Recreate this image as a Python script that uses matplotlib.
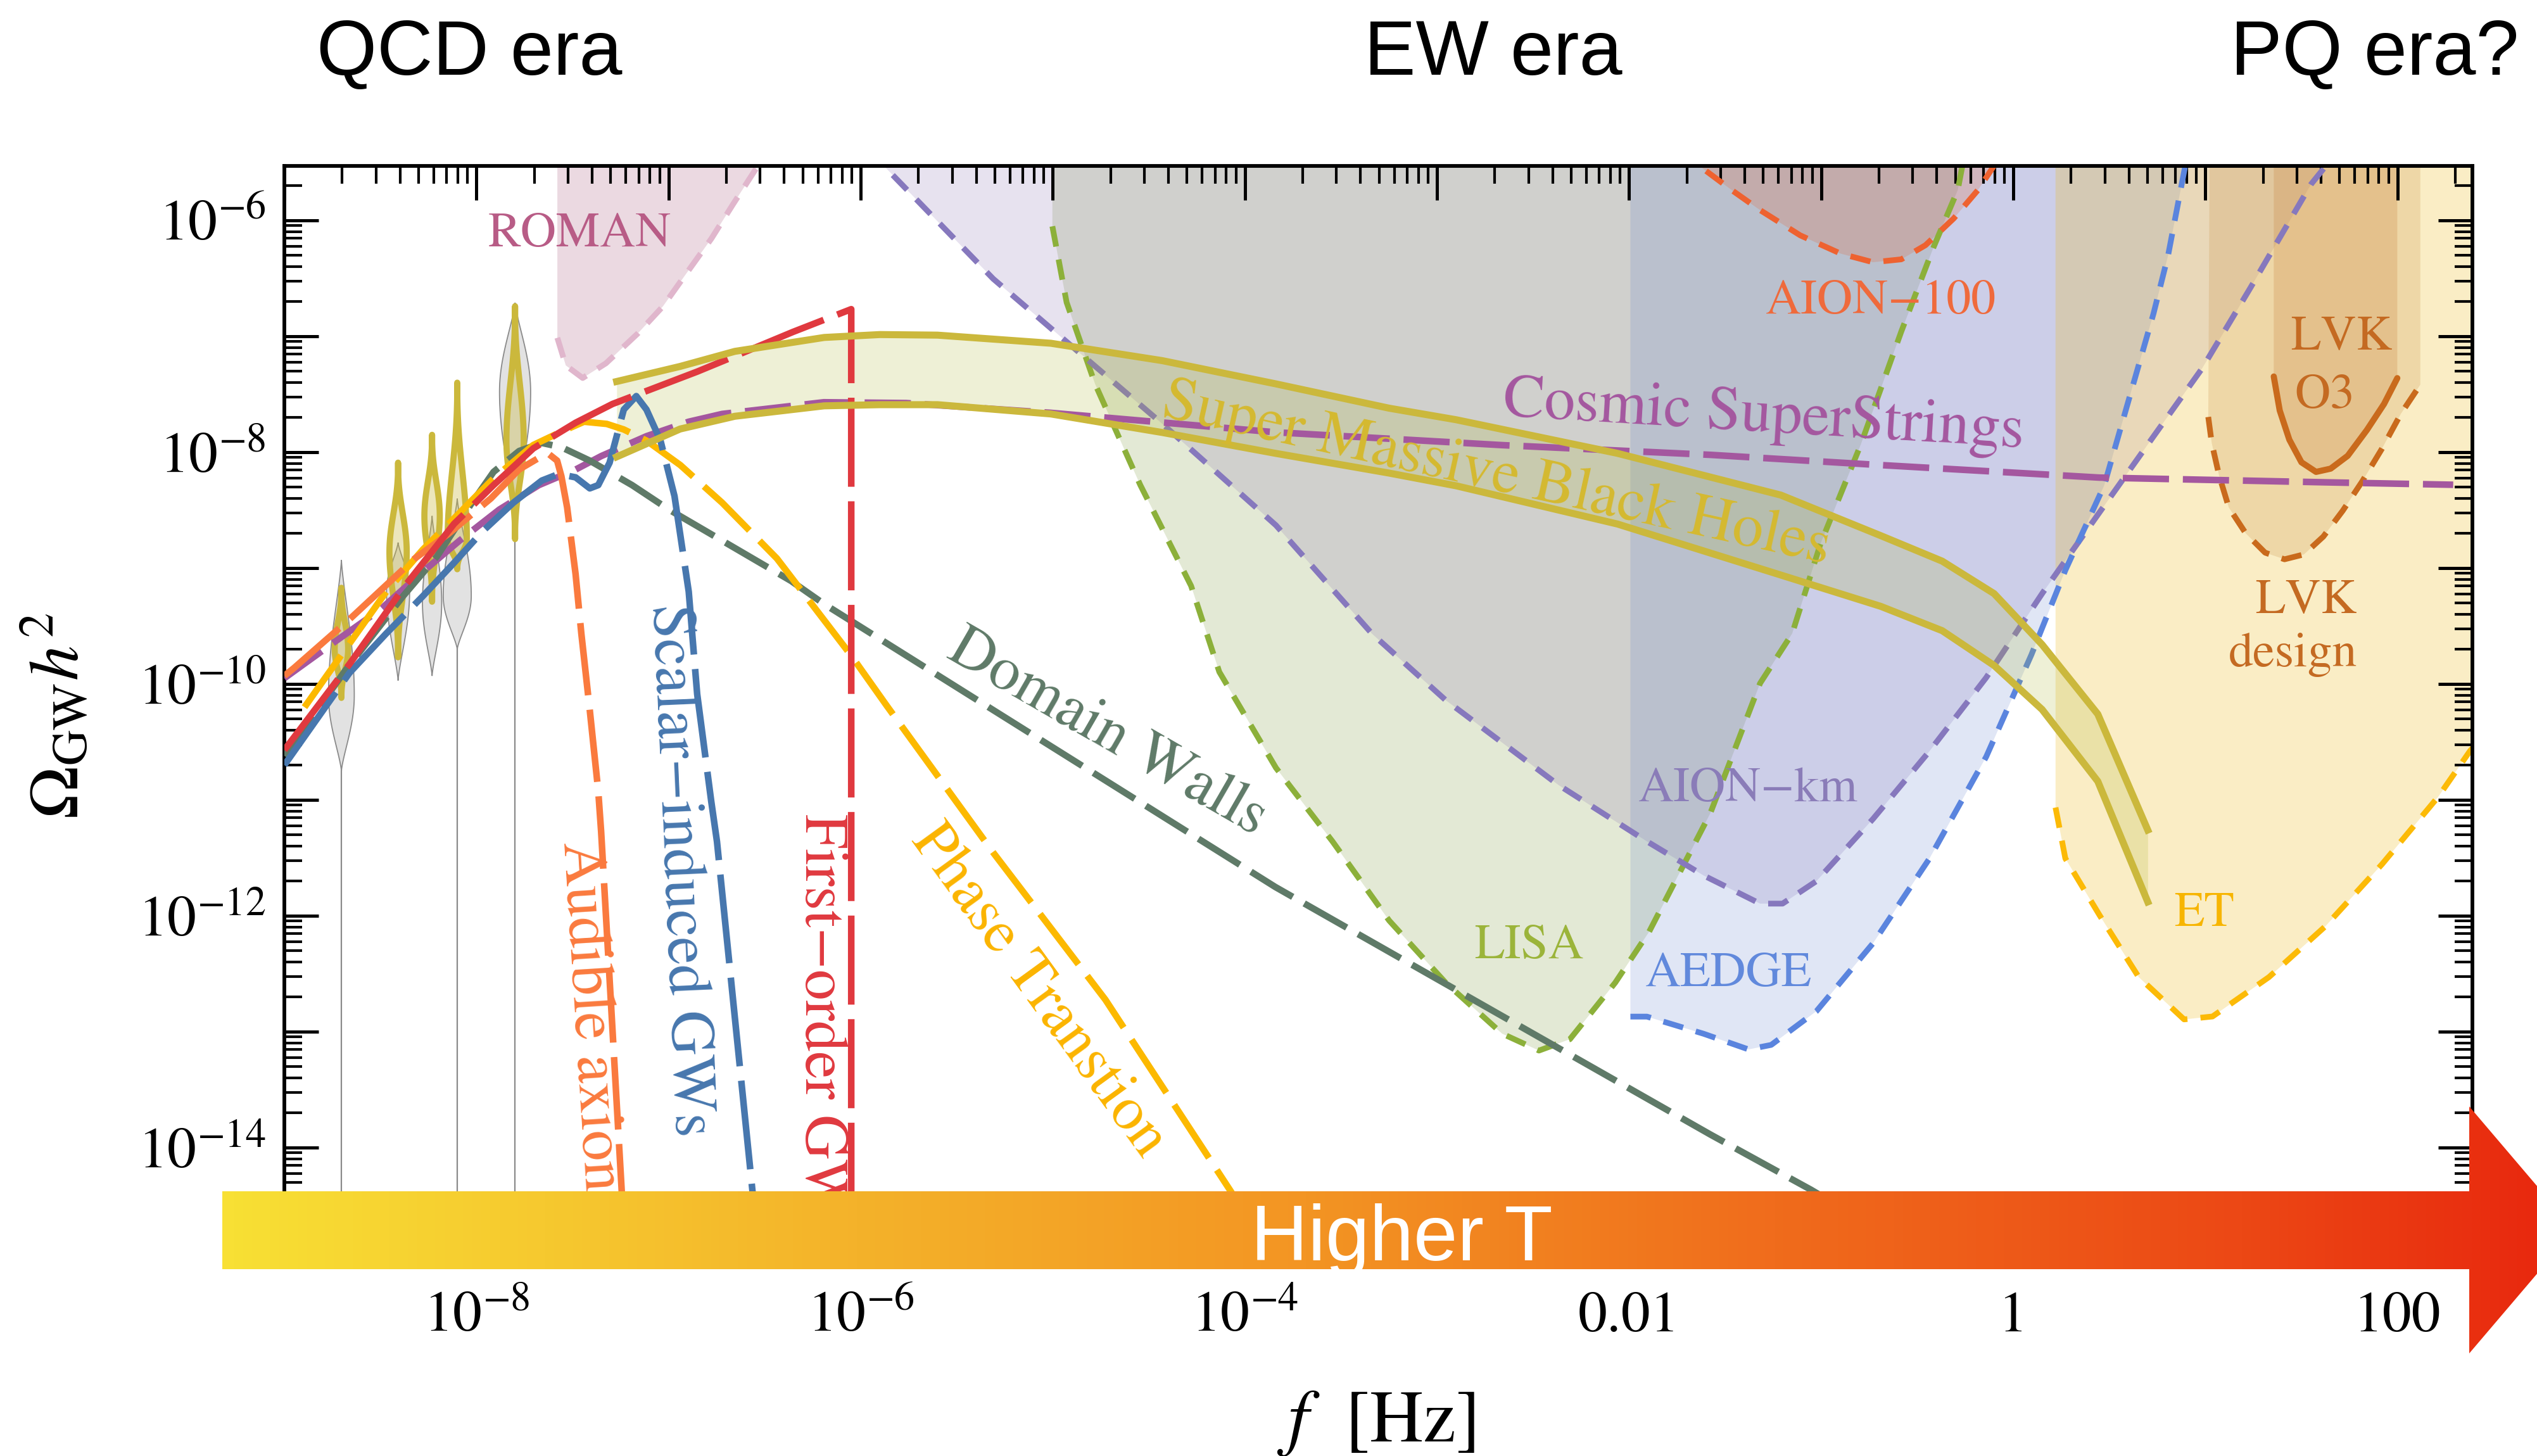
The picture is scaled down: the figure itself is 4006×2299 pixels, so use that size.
import numpy as np
import matplotlib
matplotlib.use("Agg")
import matplotlib.pyplot as plt
from matplotlib.ticker import LogLocator, NullFormatter, FuncFormatter
from matplotlib.patches import Polygon
from matplotlib.colors import LinearSegmentedColormap

plt.rcParams["mathtext.fontset"] = "stix"
plt.rcParams["font.family"] = ["STIXGeneral", "DejaVu Serif"]

W, H, DPI = 4006, 2299, 100

# ---------------------------------------------------------------------------
# Data: all values are log10(f / Hz) and log10(Omega_GW h^2)
# ---------------------------------------------------------------------------
XMIN, XMAX = -9.0, 2.39
YMIN, YMAX = -15.0, -5.53
TOP = -5.3  # closing level for sensitivity regions (above frame, clipped)

# Super massive black holes band
smbh_logf = [-7.27, -6.94, -6.655, -6.19, -5.90, -5.60, -5.01, -4.43, -3.84, -3.25,
             -2.90, -2.06, -1.21, -0.69, -0.37, -0.10, 0.15, 0.44, 0.70]
smbh_hi = [-7.39, -7.26, -7.13, -7.01, -6.985, -6.99, -7.06, -7.21, -7.41, -7.62,
           -7.72, -8.01, -8.37, -8.72, -8.94, -9.22, -9.66, -10.26, -11.26]
smbh_lo = [-8.04, -7.80, -7.69, -7.60, -7.59, -7.59, -7.67, -7.83, -8.01, -8.18,
           -8.29, -8.62, -9.06, -9.33, -9.54, -9.84, -10.22, -10.84, -11.88]

# Cosmic superstrings
cs_logf = [-9.0, -8.735, -8.50, -8.293, -8.088, -7.881, -7.675, -7.484, -7.351, -7.115,
           -6.895, -6.721, -6.192, -5.763, -5.013, -3.841, -2.661, -1.575, -0.733, 0.447,
           1.626, 2.29]
cs_logO = [-9.95, -9.633, -9.357, -9.051, -8.763, -8.495, -8.284, -8.150, -8.034, -7.862,
           -7.737, -7.670, -7.569, -7.576, -7.660, -7.828, -7.939, -8.023, -8.107, -8.219,
           -8.260, -8.281]

# Domain walls
dw_logf = [-9.0, -8.680, -8.382, -8.206, -8.029, -7.911, -7.778, -7.660, -7.558, -7.410,
           -7.190, -6.998, -6.721, -6.361, -6.192, -3.841, -1.575, -1.053, -0.30]
dw_logO = [-10.62, -9.877, -9.242, -8.90, -8.45, -8.17, -7.99, -7.92, -7.957, -8.073,
           -8.284, -8.495, -8.763, -9.112, -9.308, -11.752, -13.889, -14.364, -15.1]

# First-order GWs
fo_logf = [-9.0, -8.660, -8.366, -8.117, -7.911, -7.704, -7.484, -7.292, -6.851, -6.655,
           -6.352, -6.049, -6.049]
fo_logO = [-10.57, -9.826, -9.14, -8.619, -8.284, -7.967, -7.746, -7.584, -7.305, -7.171,
           -6.962, -6.766, -15.5]

# Scalar-induced GWs
si_logf = [-9.0, -8.661, -8.470, -8.279, -8.117, -7.970, -7.808, -7.660, -7.572, -7.484,
           -7.410, -7.366, -7.307, -7.233, -7.168, -7.115, -7.042, -6.969, -6.895, -6.851,
           -6.778, -6.748, -6.563, -6.52]
si_logO = [-10.70, -9.904, -9.565, -9.242, -8.955, -8.686, -8.436, -8.245, -8.188, -8.217,
           -8.312, -8.284, -8.091, -7.632, -7.516, -7.632, -7.90, -8.379, -9.203, -10.087,
           -11.01, -11.359, -14.378, -15.1]

# Audible axion
aa_logf = [-9.0, -8.949, -8.661, -8.323, -8.147, -7.925, -7.778, -7.631, -7.580, -7.558,
           -7.528, -7.484, -7.454, -7.410, -7.366, -7.351, -7.245, -7.22]
aa_logO = [-9.93, -9.861, -9.442, -8.920, -8.706, -8.399, -8.149, -8.006, -8.073, -8.207,
           -8.476, -9.051, -9.565, -10.227, -10.924, -11.273, -14.34, -15.1]

# Phase transition
pt_logf = [-8.895, -8.676, -8.470, -8.279, -8.117, -7.911, -7.704, -7.558, -7.440, -7.322,
           -7.233, -7.115, -6.939, -6.721, -6.436, -6.049, -5.864, -5.308, -4.726, -4.073,
           -3.825]
pt_logO = [-10.20, -9.686, -9.205, -8.840, -8.572, -8.226, -7.938, -7.823, -7.737, -7.756,
           -7.804, -7.900, -8.111, -8.436, -8.917, -9.755, -10.188, -11.459, -12.724, -14.378,
           -15.06]

# PTA violins (grey) and SMBH-fit violins (gold)
pta_logf = [-8.703, -8.408, -8.231, -8.100, -7.799]
pta_top = [-8.93, -8.78, -8.55, -8.40, -6.71]
pta_mid = [-10.10, -9.20, -9.30, -9.24, -7.48]
pta_bot = [-10.75, -9.97, -9.93, -9.70, -8.54]
pta_hw = [0.067, 0.060, 0.050, 0.073, 0.081]
pta_tail = [True, False, False, True, True]
gv_top = [-9.17, -8.09, -7.85, -7.40, -6.74]
gv_mid = [-9.70, -8.86, -8.55, -8.75, -7.90]
gv_bot = [-10.12, -9.77, -9.29, -9.01, -8.75]
gv_hw = [0.035, 0.045, 0.040, 0.050, 0.045]

# --- detector sensitivity curves ---
roman_logf = [-7.579, -7.535, -7.447, -7.326, -7.161, -7.029, -6.919, -6.777, -6.666, -6.546, -6.50]
roman_logO = [-7.013, -7.251, -7.360, -7.233, -6.977, -6.741, -6.485, -6.157, -5.865, -5.557, -5.45]

aionkm_logf = [-5.955, -5.310, -4.869, -4.427, -3.838, -3.339, -2.955, -2.367, -1.907, -1.612,
               -1.318, -1.201, -1.024, -0.730, -0.436, -0.141, 0.153, 0.446, 0.730, 0.983,
               1.235, 1.550, 1.69]
aionkm_logO = [-5.40, -6.504, -7.131, -7.759, -8.631, -9.565, -10.139, -10.872, -11.358, -11.652,
               -11.895, -11.895, -11.700, -11.164, -10.579, -9.945, -9.213, -8.526, -7.864, -7.277,
               -6.580, -5.688, -5.40]

lisa_logf = [-5.002, -5.002, -4.928, -4.780, -4.545, -4.280, -4.133, -3.838, -3.544, -3.249,
             -2.955, -2.661, -2.469, -2.308, -2.072, -1.896, -1.577, -1.318, -1.151, -1.003,
             -0.794, -0.583, -0.414, -0.289, -0.25]
lisa_logO = [-5.40, -6.051, -6.707, -7.410, -8.281, -9.153, -9.896, -10.724, -11.358, -12.041,
             -12.577, -13.017, -13.163, -13.065, -12.577, -12.139, -11.115, -9.994, -9.565, -8.788,
             -7.935, -6.959, -6.227, -5.738, -5.40]

aedge_logf = [-1.993, -1.993, -1.907, -1.612, -1.378, -1.260, -1.024, -0.730, -0.436, -0.141,
              0.094, 0.271, 0.473, 0.730, 0.806, 0.91]
aedge_logO = [-5.40, -12.870, -12.870, -13.018, -13.153, -13.114, -12.822, -12.237, -11.505, -10.628,
              -9.749, -9.019, -8.288, -6.804, -6.301, -5.40]

aion100_logf = [-1.74, -1.634, -1.466, -1.319, -1.109, -0.898, -0.730, -0.583, -0.457, -0.310,
                -0.184, -0.101, -0.049]
aion100_logO = [-5.40, -5.53, -5.738, -5.910, -6.129, -6.287, -6.361, -6.336, -6.214, -5.983,
                -5.738, -5.53, -5.40]

et_logf = [0.22, 0.22, 0.271, 0.448, 0.653, 0.889, 1.037, 1.331, 1.625, 1.920, 2.214, 2.377, 2.50]
et_logO = [-5.40, -11.066, -11.505, -11.992, -12.529, -12.894, -12.869, -12.529, -12.090, -11.554,
           -10.969, -10.579, -10.35]

lvkd_logf = [1.022, 1.015, 1.033, 1.071, 1.122, 1.210, 1.311, 1.412, 1.513, 1.614, 1.715, 1.816,
             1.917, 2.018, 2.119, 2.119]
lvkd_logO = [-5.40, -7.696, -7.920, -8.198, -8.477, -8.700, -8.867, -8.924, -8.882, -8.728, -8.505,
             -8.253, -7.976, -7.668, -7.417, -5.40]

lvko3_logf = [1.356, 1.356, 1.387, 1.437, 1.500, 1.576, 1.652, 1.741, 1.841, 1.930, 1.999, 1.999]
lvko3_logO = [-5.40, -7.347, -7.640, -7.892, -8.087, -8.170, -8.142, -8.031, -7.808, -7.584, -7.361, -5.40]

# tick labels
xtick_exp = [-8, -6, -4, -2, 0, 2]
xtick_txt = [r"$10^{-8}$", r"$10^{-6}$", r"$10^{-4}$", "0.01", "1", "100"]
ytick_exp = [-6, -8, -10, -12, -14]
ytick_txt = [r"$10^{-6}$", r"$10^{-8}$", r"$10^{-10}$", r"$10^{-12}$", r"$10^{-14}$"]

era_labels = ["QCD era", "EW era", "PQ era?"]


def P(a):
    return 10.0 ** np.asarray(a, dtype=float)


# ---------------------------------------------------------------------------
fig = plt.figure(figsize=(W / DPI, H / DPI), dpi=DPI, facecolor="white")
ax = fig.add_axes([449 / W, 1 - 1995 / H, (3904 - 449) / W, (1995 - 262) / H])
ax.set_xscale("log")
ax.set_yscale("log")
ax.set_xlim(P(XMIN), P(XMAX))
ax.set_ylim(P(YMIN), P(YMAX))


def region(lf, lo, fc, alpha, lc, ls, i0=0, i1=None, lw=6.5):
    xs = list(lf)
    ys = list(lo)
    px = [xs[0]] + xs + [xs[-1]]
    py = [TOP] + ys + [TOP]
    ax.fill(P(px), P(py), color=fc, alpha=alpha, lw=0, zorder=1)
    ax.plot(P(xs[i0:i1]), P(ys[i0:i1]), color=lc, lw=lw, ls=ls, zorder=2,
            dash_capstyle="butt", solid_capstyle="round")


det_dash = (0, (3.6, 2.3))
region(roman_logf, roman_logO, "#b36b8b", 0.25, "#e0b6cc", det_dash)
region(lisa_logf, lisa_logO, "#93ab5b", 0.25, "#8cb03a", det_dash, i0=1)
region(aionkm_logf, aionkm_logO, "#876eaf", 0.20, "#8678bd", det_dash)
region(aedge_logf, aedge_logO, "#6482cd", 0.20, "#5a84de", det_dash, i0=1)
region(aion100_logf, aion100_logO, "#e06f48", 0.25, "#ee6230", det_dash)
region(et_logf, et_logO, "#efbb1b", 0.25, "#fcba06", det_dash, i0=1)
region(lvkd_logf, lvkd_logO, "#cb964e", 0.25, "#c96a1c", det_dash, i0=1, i1=-1)
region(lvko3_logf, lvko3_logO, "#c7803c", 0.25, "#c96a1c", "-", i0=1, i1=-1, lw=7.0)

# SMBH band
ax.fill_between(P(smbh_logf), P(smbh_lo), P(smbh_hi), color="#aab432", alpha=0.2, lw=0, zorder=2.5)
ax.plot(P(smbh_logf), P(smbh_hi), color="#cbb83c", lw=8.0, zorder=3.2)
ax.plot(P(smbh_logf), P(smbh_lo), color="#cbb83c", lw=8.0, zorder=3.2)


# violins
def outline(lf, top, mid, bot, hw, p):
    ys = np.linspace(top, bot, 80)
    u = np.where(ys >= mid, (top - ys) / (top - mid), (ys - bot) / (mid - bot))
    w = hw * np.sin(np.pi / 2 * np.clip(u, 0, 1)) ** p
    xs = np.concatenate([lf + w, (lf - w)[::-1]])
    yy = np.concatenate([ys, ys[::-1]])
    return xs, yy


for lf, t, m, b, hw, tail in zip(pta_logf, pta_top, pta_mid, pta_bot, pta_hw, pta_tail):
    xs, ys = outline(lf, t, m, b, hw, 1.3)
    ax.fill(P(xs), P(ys), facecolor="#e2e2e2", edgecolor="#8a8a8a", lw=1.3, zorder=2.6)
    if tail:
        ax.plot(P([lf, lf]), P([b, -15.5]), color="#8a8a8a", lw=1.6, zorder=2.6)

for lf, t, m, b, hw in zip(pta_logf, gv_top, gv_mid, gv_bot, gv_hw):
    xs, ys = outline(lf, t, m, b, hw, 2.5)
    ax.fill(P(xs), P(ys), facecolor="#cbb83c", alpha=0.35, lw=0, zorder=2.8)
    ax.fill(P(xs), P(ys), facecolor="none", edgecolor="#cbb83c", lw=7.0, zorder=2.8,
            joinstyle="round")

# model curves
LW = 7.5
curves = [
    (cs_logf, cs_logO, "#a4579f", (7.0, 2.1)),
    (dw_logf, dw_logO, "#5f7a68", (7.4, 2.0)),
    (pt_logf, pt_logO, "#fcb900", (9.6, 2.2)),
    (aa_logf, aa_logO, "#fa7a3e", (11.0, 2.2)),
    (si_logf, si_logO, "#4777ae", (13.5, 2.2)),
    (fo_logf, fo_logO, "#e0393f", (13.5, 2.2)),
]
for lf, lo, col, dash in curves:
    ax.plot(P(lf), P(lo), color=col, lw=LW, ls=(0, dash), zorder=3,
            dash_capstyle="butt")

# annotations on curves
ann = dict(fontsize=70, rotation_mode="anchor", zorder=4)
ax.text(P(-2.69), P(-8.20), "Super Massive Black Holes", color="#d5b930", rotation=-12.5,
        ha="center", va="center", **ann)
ax.text(P(-1.30), P(-7.695), "Cosmic SuperStrings", color="#a4579f", rotation=-3.5,
        ha="center", va="center", **ann)
ax.text(P(-4.715), P(-10.43), "Domain Walls", color="#5f7a68", rotation=-30,
        ha="center", va="center", **ann)
ax.text(P(-5.076), P(-12.652), "Phase Transtion", color="#fbb400", rotation=-54,
        ha="center", va="center", **ann)
ax.text(P(-6.212), P(-11.118), "First\u2212order GWs", color="#e0393f", rotation=-90,
        ha="left", va="center", **ann)
ax.text(P(-7.006), P(-9.31), "Scalar\u2212induced GWs", color="#4777ae", rotation=-87.5,
        ha="left", va="center", **ann)
ax.text(P(-7.471), P(-11.358), "Audible axion", color="#fa7a3e", rotation=-86.4,
        ha="left", va="center", **ann)

# detector labels
det = dict(fontsize=56, ha="center", va="center", zorder=4)
ax.text(P(-7.463), P(-6.124), "ROMAN", color="#b85c86", **det)
ax.text(P(-2.519), P(-12.269), "LISA", color="#9bb43a", **det)
ax.text(P(-1.482), P(-12.507), "AEDGE", color="#6189dc", **det)
ax.text(P(-1.381), P(-10.914), "AION\u2212km", color="#8a7cb8", **det)
ax.text(P(-0.689), P(-6.702), "AION\u2212100", color="#ef6a3c", **det)
ax.text(P(0.993), P(-11.99), "ET", color="#f7b500", **det)
ax.text(P(1.709), P(-7.017), "LVK", color="#c46a22", **det)
ax.text(P(1.620), P(-7.52), "O3", color="#c46a22", **det)
ax.text(P(1.522), P(-9.29), "LVK", color="#c46a22", **det)
ax.text(P(1.455), P(-9.75), "design", color="#c46a22", **det)

# ticks
ax.xaxis.set_major_locator(LogLocator(base=10, numticks=100))
ax.yaxis.set_major_locator(LogLocator(base=10, numticks=100))
ax.xaxis.set_minor_locator(LogLocator(base=10, subs=np.arange(2, 10), numticks=200))
ax.yaxis.set_minor_locator(LogLocator(base=10, subs=np.arange(2, 10), numticks=200))
ax.xaxis.set_major_formatter(NullFormatter())
ax.xaxis.set_minor_formatter(NullFormatter())
ax.yaxis.set_minor_formatter(NullFormatter())
ylab = dict(zip(ytick_exp, ytick_txt))
ax.yaxis.set_major_formatter(FuncFormatter(
    lambda v, pos: ylab.get(int(round(np.log10(v))), "") if v > 0 else ""))
ax.tick_params(which="both", direction="in", top=True, right=True, colors="black")
ax.tick_params(which="major", length=39, width=3.6, labelsize=66, pad=21)
ax.tick_params(which="minor", length=20, width=3.0)
for s in ax.spines.values():
    s.set_linewidth(4.2)

for e, t in zip(xtick_exp, xtick_txt):
    ax.text(P(e), -0.0617, t, transform=ax.get_xaxis_transform(), ha="center",
            va="baseline", fontsize=66, clip_on=False)

# ---------------------------------------------------------------------------
# overlay: arrow, era labels, axis labels
ov = fig.add_axes([0, 0, 1, 1], zorder=20)
ov.patch.set_alpha(0)
arrow = [(351, 1881), (3899, 1881), (3899, 1747), (4065, 1942), (3899, 2137),
         (3899, 2004), (351, 2004)]
poly = Polygon(arrow, closed=True, facecolor="none", edgecolor="none")
ov.add_patch(poly)
cmap = LinearSegmentedColormap.from_list(
    "hot_t", [(0.0, "#f8e034"), (0.27, "#f4b22a"), (0.46, "#f39523"),
              (0.66, "#f06c1c"), (0.86, "#ec4815"), (1.0, "#e8260e")])
im = ov.imshow(np.linspace(0, 1, 600).reshape(1, -1), cmap=cmap, aspect="auto",
               extent=(351, 4065, 2137, 1747), interpolation="bilinear")
im.set_clip_path(poly)
ov.set_xlim(0, W)
ov.set_ylim(H, 0)
ov.axis("off")

sans = dict(fontfamily="Liberation Sans", color="black")
ov.text(2213, 1990, "Higher T", fontsize=90, ha="center", va="baseline",
        fontfamily="Liberation Sans", color="white")
for x, t in zip([741, 2358, 3750], era_labels):
    ov.text(x, 118, t, fontsize=88, ha="center", va="baseline", **sans)

ov.text(2173, 2248, r"$f$  [Hz]", fontsize=84, ha="center", va="center")
ov.text(92, 1130, r"$\Omega_{\rm GW}h^2$", fontsize=80, ha="center", va="center",
        rotation=90)

fig.savefig("out.png", dpi=DPI, facecolor="white")
